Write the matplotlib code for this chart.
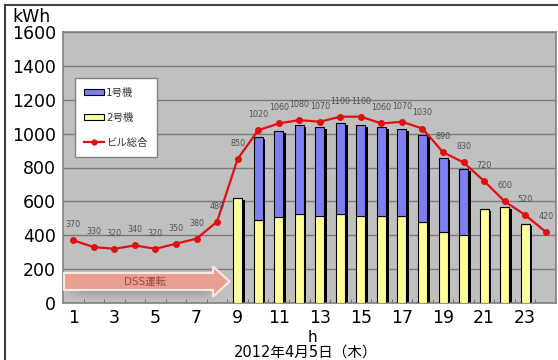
import numpy as np
import matplotlib
matplotlib.use('Agg')
import matplotlib.pyplot as plt
from matplotlib.patches import Patch, FancyArrow
from matplotlib.lines import Line2D

plt.rcParams['font.family'] = ['DejaVu Sans', 'Noto Sans CJK JP']

# 時間別の電力量 (kWh)
hours = list(range(1, 25))
bill_total = [370, 330, 320, 340, 320, 350, 380, 480, 850, 1020, 1060, 1080,
              1070, 1100, 1100, 1060, 1070, 1030, 890, 830, 720, 600, 520, 420]
bar_hours = list(range(9, 24))
unit1 = [0, 490, 510, 525, 525, 535, 535, 525, 515, 510, 435, 390, 0, 0, 0]
unit2 = [620, 490, 505, 525, 515, 525, 515, 515, 515, 480, 420, 400, 555, 565, 465]
xtick_labels = [str(h) for h in range(1, 24, 2)]

W, H = 558, 360
fig = plt.figure(figsize=(W / 100, H / 100), dpi=100)
fig.patch.set_facecolor('white')

ax = fig.add_axes([63 / W, (H - 303) / H, 493 / W, 271 / H])
ax.set_facecolor('#c0c0c0')
ax.set_xlim(0.5, 24.5)
ax.set_ylim(0, 1600)
ax.set_yticks(range(0, 1601, 200))
ax.yaxis.grid(True, color='#7a7a7a', lw=1)
ax.set_axisbelow(True)
for s in ax.spines.values():
    s.set_color('#808080')
    s.set_linewidth(1.2)

x = np.array(bar_hours)
u1 = np.array(unit1)
u2 = np.array(unit2)
tot = u1 + u2
w = 0.44

# 影
ax.bar(x + 0.13, tot - 12, width=w, color='black', zorder=2)
ax.bar(x, u2, width=w, color='#ffff99', edgecolor='black', lw=0.8, zorder=3)
ax.bar(x, u1, width=w, bottom=u2, color='#7f7ff2', edgecolor='black', lw=0.8, zorder=3)

ax.plot(hours, bill_total, color='#e01010', lw=1.6, marker='o', ms=4, zorder=5)
for h, v in zip(hours, bill_total):
    ax.annotate(str(v), (h, v), xytext=(0, 8), textcoords='offset points',
                ha='center', va='bottom', fontsize=5.8, color='#505050', zorder=6)

# DSS運転の矢印
shade = np.linspace(0, 1, 40)[:, None] * np.ones((1, 80))
edge = np.minimum(1, (1 - np.abs(np.linspace(-1, 1, 80))) * 4)[None, :]
alpha = (shade ** 1.5) * edge * 0.45
img = np.zeros((40, 80, 4))
img[..., :3] = 0.35
img[..., 3] = alpha
ax.imshow(img, extent=(0.5, 8.2, 0, 90), origin='lower', aspect='auto', zorder=3.5)
ax.add_patch(FancyArrow(0.55, 127, 8.05, 0, width=100, head_width=180, head_length=0.8,
                        length_includes_head=True, facecolor='#e9a090',
                        edgecolor='#f8e8e4', lw=1.5, zorder=4))
ax.text(4.5, 127, 'DSS運転', ha='center', va='center', fontsize=7.5,
        color='#a04838', zorder=5)

ax.set_xticks(range(1, 24, 2))
ax.set_xticklabels(xtick_labels)
ax.set_xticks(np.arange(1.5, 24.5, 1), minor=True)
ax.tick_params(axis='x', which='major', length=0, labelsize=12.5, pad=4)
ax.tick_params(axis='x', which='minor', direction='in', length=3, color='#606060')
ax.tick_params(axis='y', length=0, labelsize=12.5, pad=5)

handles = [Patch(facecolor='#7f7ff2', edgecolor='black', lw=0.8),
           Patch(facecolor='#ffff99', edgecolor='black', lw=0.8),
           Line2D([], [], color='#e01010', lw=1.6, marker='o', ms=3.5)]
leg = ax.legend(handles, ['1号機', '2号機', 'ビル総合'], loc='upper left',
                bbox_to_anchor=(0.024, 0.83), fontsize=7.5, labelspacing=1.45,
                handlelength=1.9, handleheight=0.55, handletextpad=0.2,
                borderpad=0.9, borderaxespad=0, fancybox=False, framealpha=1,
                edgecolor='#808080')
leg.get_frame().set_linewidth(1)
for t in leg.get_texts():
    t.set_color('#333333')

fig.text(12 / W, 1 - 17 / H, 'kWh', ha='left', va='center', fontsize=12.5)
fig.text(312 / W, 1 - 337 / H, 'h', ha='center', va='center', fontsize=11)
fig.text(306 / W, 1 - 352 / H, '2012年4月5日（木）', ha='center', va='center', fontsize=10.5)

# 外枠
fig.add_artist(Line2D([5 / W, 5 / W], [0, 1 - 5 / H], color='#404040', lw=1.5))
fig.add_artist(Line2D([5 / W, 1], [1 - 5 / H, 1 - 5 / H], color='#404040', lw=1.5))

fig.savefig('out.png', dpi=100)
